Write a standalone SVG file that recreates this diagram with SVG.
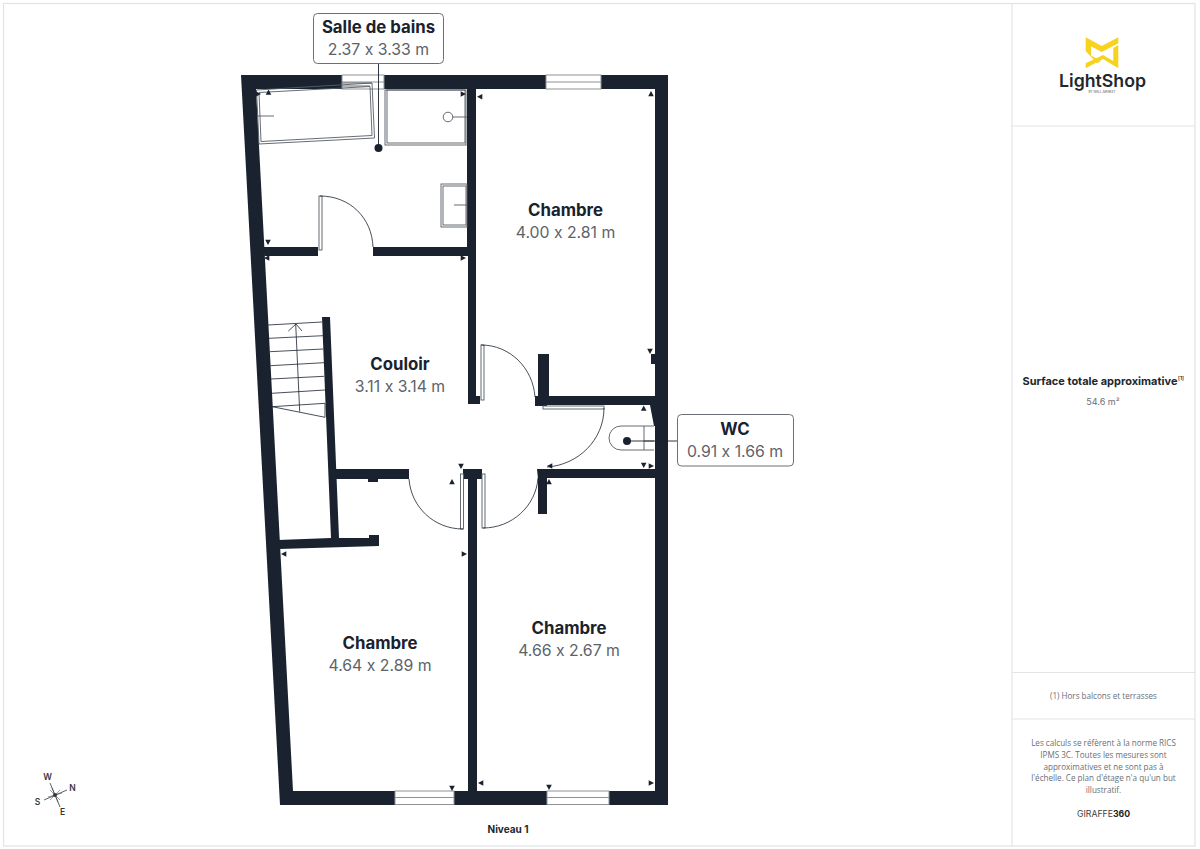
<svg xmlns="http://www.w3.org/2000/svg" xmlns:xlink="http://www.w3.org/1999/xlink" width="1200" height="849" viewBox="0 0 1200 849">
<style>
text{font-variant-ligatures:no-contextual;font-feature-settings:"calt" 0}
.wall{fill:#19222e}
.thin{fill:none;stroke:#19222e;stroke-width:.8}
.fix{fill:#fff;stroke:#555b63;stroke-width:.9}
.win{fill:#fff;stroke:#8d9195;stroke-width:1}
.frame{fill:none;stroke:#e2e3e5;stroke-width:1.2}
.box{fill:#fff;stroke:#6b7076;stroke-width:1}
.name{font-family:Inter,"Liberation Sans",sans-serif;font-weight:700;fill:#19222e;text-anchor:middle;font-size:16.8px}
.dim{font-family:Inter,"Liberation Sans",sans-serif;font-weight:400;fill:#5d636b;text-anchor:middle;font-size:15.8px}
.small{font-family:"Open Sans","Liberation Sans",sans-serif;fill:#6a6f75;text-anchor:middle;font-size:8.1px}
.tick{fill:#19222e}
.leader{stroke:#19222e;stroke-width:.9;fill:none}
</style>
<defs>
<path id="t" d="M0,-3L2.800,2.300H-2.800Z"/>
</defs>
<rect width="1200" height="849" fill="#fff"/>
<g id="frame">
<rect class="frame" x="3.5" y="3.5" width="1191.5" height="842.5"/>
<path class="frame" d="M1012 3.5V846M1012 126H1195M1012 672.500H1195M1012 719H1195"/>
</g>
<g id="walls">
<path class="wall" fill-rule="evenodd" d="M241 75H668V805H280ZM256 89L293 791H655V89Z"/>
<path class="wall" d="M262 247H318V256H264.500ZM373 247H467V89H476V396H480V404H468V256H373Z"/>
<path class="wall" d="M468 469H463V479H468V791H477V479H482V469Z"/>
<path class="wall" d="M322 317H330L339 538H369V535H379V546L279 549L278 540L331 538Z"/>
<path class="wall" d="M335 469H409V479H378V482H368V479H336Z"/>
<path class="wall" d="M538 354H549V396H655V405H547V406H535V396H538Z"/>
<path class="wall" d="M651 354H655V364H651ZM650 405H655V426H654Z"/>
<path class="wall" d="M537 469H655V478H547V514H538V479Z"/>
</g>
<g id="windows">
<rect class="win" x="342" y="75" width="42" height="14"/>
<rect class="win" x="546" y="75" width="55" height="14"/>
<rect class="win" x="395" y="791" width="59" height="13.500"/>
<rect class="win" x="547" y="791" width="62" height="13.500"/>
<path class="win" d="M342 82H384M546 82H601M395 797.500H454M547 797.500H609"/>
</g>
<g id="doors">
<rect class="fix" x="319" y="196" width="3" height="54"/>
<path class="thin" d="M320 196C350 196 372 218 373 247"/>
<rect class="fix" x="481" y="345" width="3" height="55"/>
<path class="thin" d="M481 345C510 345 533 368 535 397"/>
<rect class="fix" x="543" y="406" width="61" height="3"/>
<path class="thin" d="M604 408C604 440 578 465 547 467"/>
<rect class="fix" x="482" y="474" width="3" height="54"/>
<path class="thin" d="M483 528C512 528 536 506 538 478"/>
<rect class="fix" x="460.500" y="474" width="3" height="55"/>
<path class="thin" d="M463 529C434 529 411 507 409 479"/>
</g>
<g id="stairs" class="thin">
<path d="M268 325L322 322M269 338.300L323 335.700M270 351.700L323 349M270.300 365.700L324 362.700M271 379L324 376.300M271.700 393.300L325 390M272.300 406.700L325 403.300L325 417.300Z"/>
<path d="M295.700 324L299.700 411.700M288.300 331L296 324L302 331"/>
</g>
<g id="fixtures" fill="none" stroke="#555b63" stroke-width=".9">
<path d="M256.500 90L372 83L374.500 138L259 144ZM259 92.500L370 86.500L372 135.500L261 141.500Z"/>
<path d="M257 116H274M342 83H372M342 86H370"/>
<rect x="385" y="90" width="81" height="55"/>
<rect x="387" y="90" width="78" height="53"/>
<circle cx="448" cy="117" r="4.800"/>
<path d="M453 117H467"/>
<rect x="441" y="184" width="26" height="43"/>
<rect x="443" y="186" width="23" height="39"/>
<path d="M454 205H467"/>
<path d="M654 426H621A12 12 0 0 0 621 450H654M644 426V450M644 441H654"/>
</g>
<g id="ticks" class="tick">
<use xlink:href="#t" href="#t" transform="translate(258,94) rotate(90)"/>
<use xlink:href="#t" href="#t" transform="translate(268.500,92.500)"/>
<use xlink:href="#t" href="#t" transform="translate(463,94) rotate(90)"/>
<use xlink:href="#t" href="#t" transform="translate(480,96.700) rotate(-90)"/>
<use xlink:href="#t" href="#t" transform="translate(268,242) rotate(180)"/>
<use xlink:href="#t" href="#t" transform="translate(267,258) rotate(-90)"/>
<use xlink:href="#t" href="#t" transform="translate(463,258) rotate(90)"/>
<use xlink:href="#t" href="#t" transform="translate(651,94)"/>
<use xlink:href="#t" href="#t" transform="translate(650,351) rotate(180)"/>
<use xlink:href="#t" href="#t" transform="translate(643.700,408.500)"/>
<use xlink:href="#t" href="#t" transform="translate(643.700,465) rotate(180)"/>
<use xlink:href="#t" href="#t" transform="translate(651,466) rotate(90)"/>
<use xlink:href="#t" href="#t" transform="translate(550,466) rotate(-90)"/>
<use xlink:href="#t" href="#t" transform="translate(549,482)"/>
<use xlink:href="#t" href="#t" transform="translate(461,466) rotate(180)"/>
<use xlink:href="#t" href="#t" transform="translate(452,482)"/>
<use xlink:href="#t" href="#t" transform="translate(284,554) rotate(-90)"/>
<use xlink:href="#t" href="#t" transform="translate(464,554) rotate(90)"/>
<use xlink:href="#t" href="#t" transform="translate(452,788) rotate(180)"/>
<use xlink:href="#t" href="#t" transform="translate(481,783) rotate(-90)"/>
<use xlink:href="#t" href="#t" transform="translate(549,787) rotate(180)"/>
<use xlink:href="#t" href="#t" transform="translate(651,783) rotate(90)"/>
</g>
<g id="connectors">
<path class="leader" d="M378.500 63V148M627 441H677"/>
<circle class="tick" cx="378.500" cy="148" r="4"/>
<circle class="tick" cx="627" cy="441" r="4"/>
</g>
<g id="room-sdb">
<rect class="box" x="313.500" y="13.500" width="130" height="50" rx="4"/>
<text class="name" x="378.500" y="33">Salle de bains</text>
<text class="dim" x="378.500" y="55">2.37 x 3.33 m</text>
</g>
<g id="room-wc">
<rect class="box" x="677.500" y="414.500" width="116" height="51.500" rx="4"/>
<text class="name" x="735" y="435">WC</text>
<text class="dim" x="735" y="457">0.91 x 1.66 m</text>
</g>
<g id="room-chambre-1">
<text class="name" x="565.500" y="216">Chambre</text>
<text class="dim" x="565.500" y="238">4.00 x 2.81 m</text>
</g>
<g id="room-couloir">
<text class="name" x="400" y="370">Couloir</text>
<text class="dim" x="400" y="392">3.11 x 3.14 m</text>
</g>
<g id="room-chambre-2">
<text class="name" x="380" y="649">Chambre</text>
<text class="dim" x="380" y="671">4.64 x 2.89 m</text>
</g>
<g id="room-chambre-3">
<text class="name" x="569" y="634">Chambre</text>
<text class="dim" x="569" y="656">4.66 x 2.67 m</text>
</g>
<g id="compass" stroke="#33393f" fill="none">
<path stroke-width=".8" d="M50 783L60 807M44 800L67 790"/>
<path stroke-width=".5" d="M50 790L60 800M50 800L60 790M52 788L58 802M48 797L62 793"/>
<circle cx="55" cy="795" r="2" fill="#33393f" stroke="none"/>
<g stroke="none" fill="#33393f" font-family="Inter,'Liberation Sans',sans-serif" font-size="8.500" font-weight="600" text-anchor="middle">
<text x="47.500" y="780">W</text>
<text x="72.500" y="791">N</text>
<text x="37.500" y="805">S</text>
<text x="62.500" y="815">E</text>
</g>
</g>
<g id="logo">
<g fill="#f7d21e">
<path d="M1085.700 37.300L1101.700 46L1118.300 37.300V43.300L1101.700 52L1091 46.300V55.500L1101 61L1097 63.300L1085.700 51Z"/>
<path d="M1118.300 45V68.300L1103 59L1085.700 68.300V63.300L1103 55L1113.300 61V48Z"/>
</g>
<text x="1102.500" y="87" font-family="Inter,'Liberation Sans',sans-serif" font-weight="600" font-size="17.700" fill="#22272d" text-anchor="middle">LightShop</text>
<text x="1102" y="92.500" font-family="Inter,'Liberation Sans',sans-serif" font-size="3" fill="#555" text-anchor="middle">BY WALL-MARKET</text>
</g>
<g id="summary">
<text x="1100" y="385" font-family="Inter,'Liberation Sans',sans-serif" font-weight="700" font-size="11" fill="#22272d" text-anchor="middle">Surface totale approximative</text>
<text x="1181" y="380" font-family="Inter,'Liberation Sans',sans-serif" font-weight="600" font-size="5" fill="#22272d" text-anchor="middle">[1]</text>
<text x="1103" y="405" font-family="Inter,'Liberation Sans',sans-serif" font-size="9" fill="#6a6f75" text-anchor="middle">54.6 m²</text>
</g>
<g id="notes">
<text class="small" x="1103.500" y="698.500">(1) Hors balcons et terrasses</text>
<text class="small" x="1103.500" y="746">Les calculs se réfèrent à la norme RICS</text>
<text class="small" x="1103.500" y="758">IPMS 3C. Toutes les mesures sont</text>
<text class="small" x="1103.500" y="770">approximatives et ne sont pas à</text>
<text class="small" x="1103.500" y="781">l'échelle. Ce plan d'étage n'a qu'un but</text>
<text class="small" x="1103.500" y="793">illustratif.</text>
<text x="1103.500" y="817" font-family="Inter,'Liberation Sans',sans-serif" font-size="8.700" fill="#3a3f45" text-anchor="middle">GIRAFFE<tspan font-weight="700" fill="#19222e">360</tspan></text>
</g>
<g id="level">
<text x="508" y="833" font-family="Inter,'Liberation Sans',sans-serif" font-weight="700" font-size="10" fill="#22272d" text-anchor="middle">Niveau 1</text>
</g>
</svg>
